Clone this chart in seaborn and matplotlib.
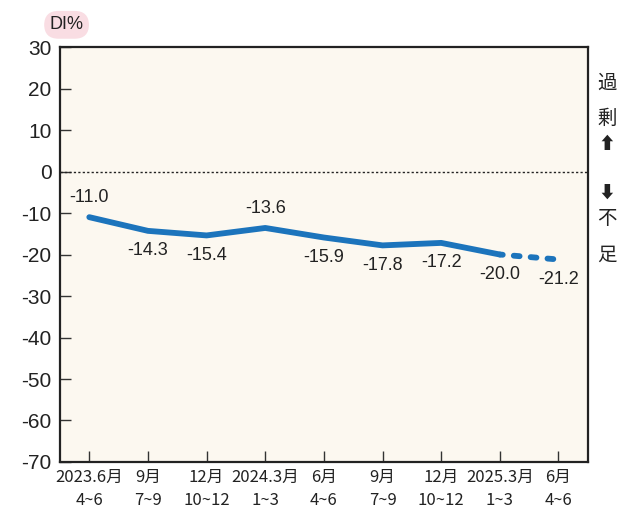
import matplotlib
matplotlib.use("Agg")
import matplotlib.pyplot as plt
import seaborn as sns
import pandas as pd

# data
periods = ["2023.6月\n4~6", "9月\n7~9", "12月\n10~12", "2024.3月\n1~3", "6月\n4~6",
           "9月\n7~9", "12月\n10~12", "2025.3月\n1~3", "6月\n4~6"]
di_values = [-11.0, -14.3, -15.4, -13.6, -15.9, -17.8, -17.2, -20.0, -21.2]
label_above = [True, False, False, True, False, False, False, False, False]
y_ticks = [30, 20, 10, 0, -10, -20, -30, -40, -50, -60, -70]

sns.set_style("white")
plt.rcParams['font.family'] = ['Noto Sans CJK JP', 'DejaVu Sans']

df = pd.DataFrame({"x": range(len(periods)), "di": di_values})
solid = df.iloc[:8]
dashed = df.iloc[7:]

blue = "#1c74bc"
fig = plt.figure(figsize=(6.28, 5.17), dpi=100)
ax = fig.add_axes([0.0955, 0.1064, 0.8405, 0.8026])
ax.set_facecolor("#fcf8f0")

sns.lineplot(data=solid, x="x", y="di", ax=ax, color=blue, linewidth=4.2,
             solid_capstyle="round")
sns.lineplot(data=dashed, x="x", y="di", ax=ax, color=blue, linewidth=4.2,
             linestyle=(0.5, (1.0, 1.9)), dash_capstyle="round")
ax.axhline(0, color="#222222", linewidth=1.0, linestyle=(0, (1.6, 1.6)))

for i, (v, up) in enumerate(zip(di_values, label_above)):
    ax.annotate(f"{v:.1f}", (i, v), xytext=(0, 8 if up else -8),
                textcoords="offset points", ha="center",
                va="bottom" if up else "top", fontsize=13, color="#222222",
                family=['Liberation Sans', 'DejaVu Sans'])

ax.set_xlim(-0.5, 8.5)
ax.set_ylim(-70, 30)
ax.set_yticks(y_ticks)
ax.set_yticklabels([str(t) for t in y_ticks], fontsize=15,
                   family=['Liberation Sans', 'DejaVu Sans'], color="#222222")
ax.set_xticks(range(len(periods)))
ax.set_xticklabels(periods, fontsize=12, color="#222222", linespacing=1.45)
ax.tick_params(axis="y", direction="in", length=8, width=1, color="#333333", pad=6, left=True)
ax.tick_params(axis="x", direction="in", length=8, width=1, color="#333333", pad=5, bottom=True)
for s in ax.spines.values():
    s.set_color("#222222")
    s.set_linewidth(1.6)
ax.set_xlabel("")
ax.set_ylabel("")

fig.text(0.106, 0.952, "DI%", fontsize=13, ha="center", va="center", color="#222222",
         family=['Liberation Sans', 'DejaVu Sans'],
         bbox=dict(boxstyle="round,pad=0.3,rounding_size=0.8", fc="#f9dde3", ec="none"))

side = [("過", 83), ("剰", 118), ("⬆", 144), ("⬇", 193), ("不", 218), ("足", 255)]
for ch, ypx in side:
    fig.text(607 / 628, 1 - ypx / 517, ch, fontsize=14 if ch not in "⬆⬇" else 12,
             ha="center", va="center",
             color="#222222", family=['Noto Sans CJK JP', 'DejaVu Sans'])

fig.savefig("out.png", dpi=100)
